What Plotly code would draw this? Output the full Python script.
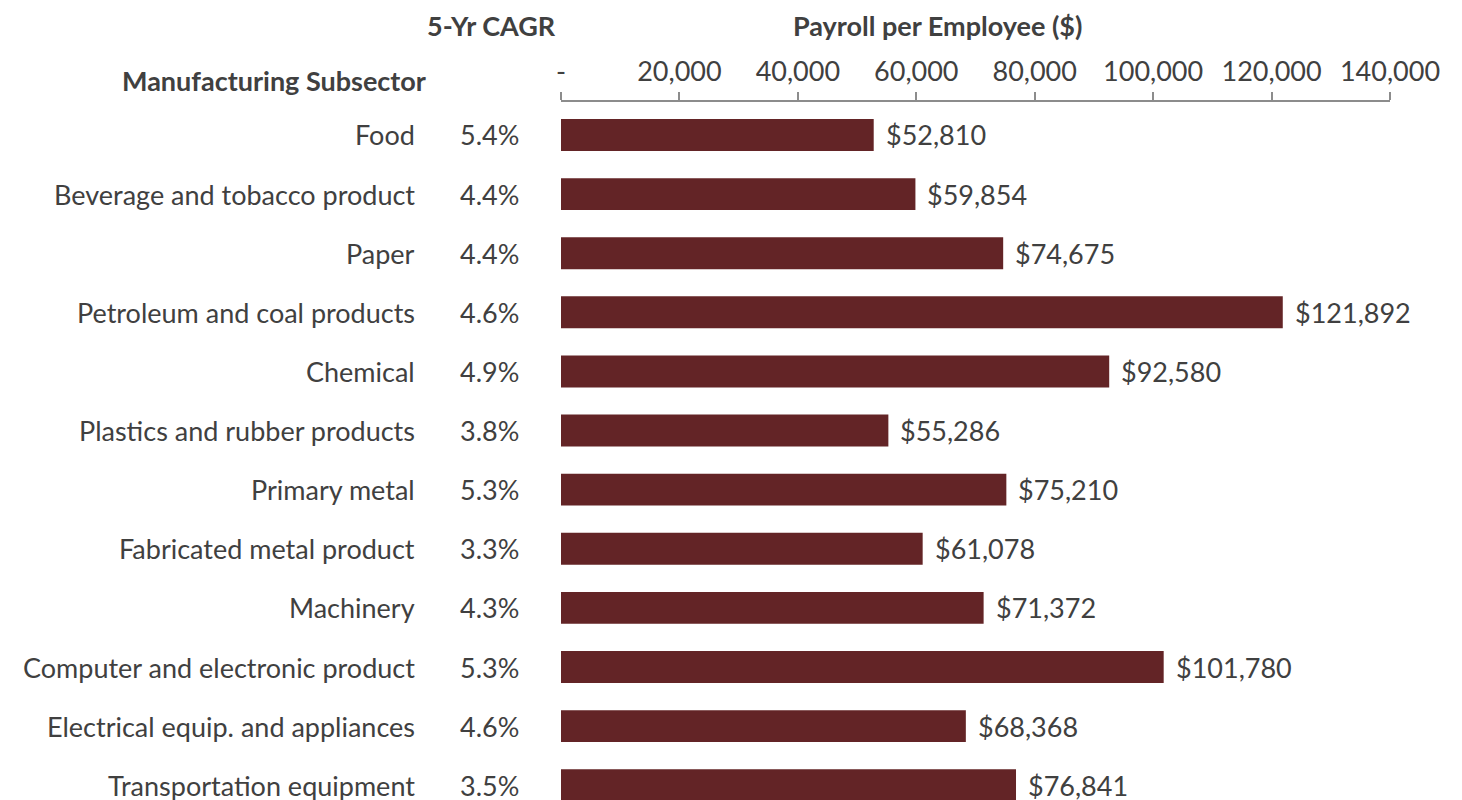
import plotly.graph_objects as go

categories = ["Food", "Beverage and tobacco product", "Paper", "Petroleum and coal products",
              "Chemical", "Plastics and rubber products", "Primary metal", "Fabricated metal product",
              "Machinery", "Computer and electronic product", "Electrical equip. and appliances",
              "Transportation equipment"]
payroll = [52810, 59854, 74675, 121892, 92580, 55286, 75210, 61078, 71372, 101780, 68368, 76841]
cagr = ["5.4%", "4.4%", "4.4%", "4.6%", "4.9%", "3.8%", "5.3%", "3.3%", "4.3%", "5.3%", "4.6%", "3.5%"]
tick_vals = [0, 20000, 40000, 60000, 80000, 100000, 120000, 140000]
tick_text = ["-", "20,000", "40,000", "60,000", "80,000", "100,000", "120,000", "140,000"]

W, H = 1462, 800
OFF = 8  # page body margin
PL, PR, PT, PB = 561, 1390, 102, 800  # plot area in page pixels
L = PL - OFF
R = W - (PR - OFF)
T = PT - OFF
B = H - (PB - OFF)
plot_w = PR - PL
plot_h = PB - PT
TXT = "#404040"
FONT = "Lato"
FS = 27

def px2x(px):
    return (px - PL) / plot_w

def px2y(py):
    return 1 + (PT - py) / plot_h

reg = dict(family=FONT, size=FS, color=TXT, weight=400)
bold = dict(family=FONT, size=FS, color=TXT, weight=700)

fig = go.Figure(go.Bar(
    x=payroll, y=categories, orientation="h",
    marker=dict(color="#632426", line=dict(width=0)),
    hoverinfo="skip",
))

ann = []
for c, v, g in zip(categories, payroll, cagr):
    ann.append(dict(x=px2x(417), y=c, xref="paper", yref="y", text=c, showarrow=False,
                    xanchor="right", yanchor="middle", font=reg))
    ann.append(dict(x=px2x(521), y=c, xref="paper", yref="y", text=g, showarrow=False,
                    xanchor="right", yanchor="middle", font=reg))
    ann.append(dict(x=v, y=c, xref="x", yref="y", text="${:,}".format(v), showarrow=False,
                    xanchor="left", yanchor="middle", xshift=10, font=reg))

ann.append(dict(x=px2x(491), y=px2y(25), xref="paper", yref="paper", text="<b>5-Yr CAGR</b>",
                showarrow=False, xanchor="center", yanchor="middle", font=bold))
ann.append(dict(x=px2x(937), y=px2y(25), xref="paper", yref="paper", text="<b>Payroll per Employee ($)</b>",
                showarrow=False, xanchor="center", yanchor="middle", font=bold))
ann.append(dict(x=px2x(274), y=px2y(80), xref="paper", yref="paper", text="<b>Manufacturing Subsector</b>",
                showarrow=False, xanchor="center", yanchor="middle", font=bold))

fig.update_layout(
    width=W, height=H,
    margin=dict(l=L, r=R, t=T, b=B),
    plot_bgcolor="white", paper_bgcolor="white",
    showlegend=False,
    bargap=0.46,
    annotations=ann,
    xaxis=dict(side="top", range=[0, 140000], tickvals=tick_vals, ticktext=tick_text,
               showgrid=False, zeroline=False, showline=True, linecolor="#8c8c8c", linewidth=1.5,
               ticks="outside", ticklen=8, tickcolor="#8c8c8c", tickwidth=1.5,
               tickfont=reg, ticklabelstandoff=0,
               fixedrange=True),
    yaxis=dict(type="category", categoryorder="array", categoryarray=categories,
               range=[11.25, -0.558], showticklabels=False, showgrid=False, zeroline=False,
               showline=False, fixedrange=True),
)

fig.write_html("out.html")
